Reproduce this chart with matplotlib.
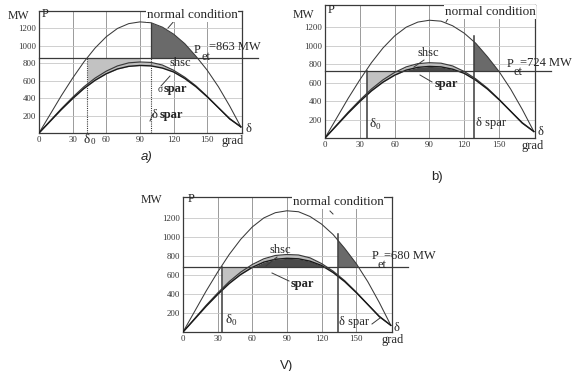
import numpy as np
import matplotlib.pyplot as plt

W, H = 582, 371

# power-angle characteristics (MW vs. degrees)
delta = [0, 10, 20, 30, 40, 50, 60, 70, 80, 90, 100, 110, 120, 130, 140, 150, 160, 170, 180]
p_normal = [0, 215, 430, 630, 815, 975, 1105, 1200, 1255, 1275, 1265, 1215, 1135, 1025, 880, 720, 530, 310, 70]
p_shsc = [0, 140, 280, 410, 530, 630, 710, 770, 805, 815, 810, 780, 720, 640, 540, 420, 290, 160, 70]
p_spar = [0, 135, 270, 395, 510, 605, 680, 735, 765, 775, 770, 745, 700, 625, 530, 415, 290, 165, 70]

panel_names = ["a)", "b)", "V)"]
p_et = [863, 724, 680]
delta_0 = [43, 36, 34]
delta_spar = [100, 128, 134]

x_ticks = [0, 30, 60, 90, 120, 150]
y_ticks = [200, 400, 600, 800, 1000, 1200]

SERIF = "Liberation Serif"
SANS = "Liberation Sans"
LINE = "#3a3a3a"
TXT = "#262626"


def fx(x):
    return x / W


def fy(y):
    return 1 - y / H


def ftext(fig, x, y, s, size=9, **kw):
    kw.setdefault("family", SERIF)
    kw.setdefault("va", "center")
    kw.setdefault("ha", "left")
    fig.text(fx(x), fy(y), s, fontsize=size, color=TXT, **kw)


def leader(fig, pts):
    xs = [fx(p[0]) for p in pts]
    ys = [fy(p[1]) for p in pts]
    fig.add_artist(plt.Line2D(xs, ys, color=LINE, lw=0.7, transform=fig.transFigure))


fig = plt.figure(figsize=(W / 100, H / 100), dpi=100)

# pixel boxes: left, right, bottom, top, ymax
boxes = [(39, 242, 133, 11, 1400), (325, 535, 138, 5, 1440), (183, 392, 332, 197, 1420)]

for i, (l, r, b, t, ymax) in enumerate(boxes):
    ax = fig.add_axes([fx(l), fy(b), (r - l) / W, (b - t) / H])
    ax.set_xlim(0, 181)
    ax.set_ylim(0, ymax)
    for s in ax.spines.values():
        s.set_linewidth(0.9)
        s.set_color(LINE)
    ax.set_xticks(x_ticks)
    ax.set_yticks(y_ticks)
    ax.tick_params(length=0, labelsize=6.3, pad=2, colors="#333333")
    for lab in ax.get_xticklabels() + ax.get_yticklabels():
        lab.set_family(SERIF)
    ax.grid(True, axis="x", color="#9a9a9a", lw=0.7)
    ax.grid(True, axis="y", color="#c8c8c8", lw=0.6)

    pe = p_et[i]
    d0 = delta_0[i]
    ds = delta_spar[i]

    xs = np.linspace(d0, ds, 200)
    ys = np.interp(xs, delta, p_spar)
    ax.fill_between(xs, ys, pe, where=(ys < pe) & (xs < 90), color="#c2c2c2", lw=0, zorder=2)
    ax.fill_between(xs, ys, pe, where=ys >= pe, color="#4a4a4a", lw=0, zorder=2)

    xn = np.linspace(ds, 180, 300)
    yn = np.interp(xn, delta, p_normal)
    ax.fill_between(xn, yn, pe, where=yn >= pe, color="#6a6a6a", lw=0, zorder=2)

    xb = np.linspace(0, 180, 200)
    ax.fill_between(xb, np.interp(xb, delta, p_spar), np.interp(xb, delta, p_shsc),
                    color="#bdbdbd", lw=0, zorder=2)

    ax.plot(delta, p_normal, color=LINE, lw=0.75, zorder=3)
    ax.plot(delta, p_shsc, color=LINE, lw=0.85, zorder=3)
    ax.plot(delta, p_spar, color="#1a1a1a", lw=1.0, zorder=3)

    ax.plot([0, 195], [pe, pe], color=LINE, lw=0.9, clip_on=False, zorder=3)
    top_n = float(np.interp(ds, delta, p_normal))
    if i == 0:
        ax.plot([d0, d0], [0, pe], color=LINE, lw=0.8, ls=(0, (1, 1)), zorder=3)
        ax.plot([ds, ds], [0, pe], color=LINE, lw=0.8, ls=(0, (1, 1)), zorder=3)
        ax.plot([ds, ds], [pe, top_n], color=LINE, lw=0.9, zorder=3)
    else:
        ax.plot([d0, d0], [0, pe], color=LINE, lw=1.1, zorder=3)
        ax.plot([ds, ds], [0, top_n + 60], color=LINE, lw=1.1, zorder=3)

white = dict(facecolor="white", edgecolor="none", pad=0.6)

# panel a texts
ftext(fig, 8, 16, "MW", 8.5)
ftext(fig, 42, 14, "P", 9)
ftext(fig, 192, 15, "normal condition", 9.5, ha="center", bbox=white)
leader(fig, [(175, 20), (168, 28)])
ftext(fig, 194, 50, "P", 9)
ftext(fig, 202, 57, "et", 9)
ftext(fig, 209, 47, "=863 MW", 9)
ftext(fig, 170, 63, "shsc", 9)
ftext(fig, 158, 89, "\u03c3", 7)
ftext(fig, 164, 89, "spar", 9, weight="bold")
leader(fig, [(161, 86), (170, 76)])
ftext(fig, 152, 115, "\u03b4", 9)
ftext(fig, 160, 115, "spar", 9, weight="bold")
leader(fig, [(150, 121), (153, 114)])
ftext(fig, 245, 129, "\u03b4", 9)
ftext(fig, 221, 141, "grad", 9)
ftext(fig, 83, 140, "\u03b4", 9.5)
ftext(fig, 91, 142, "0", 6.5)
ftext(fig, 147, 157, "a)", 9.5, family=SANS, style="italic", ha="center")

# panel b texts
ftext(fig, 293, 15, "MW", 8.5)
ftext(fig, 328, 10, "P", 9)
ftext(fig, 490, 12, "normal condition", 9.5, ha="center", bbox=white)
leader(fig, [(450, 15), (446, 22)])
ftext(fig, 417, 53, "shsc", 9)
leader(fig, [(424, 60), (414, 67)])
ftext(fig, 435, 84, "spar", 9, weight="bold")
leader(fig, [(432, 82), (420, 75)])
ftext(fig, 507, 64, "P", 9)
ftext(fig, 514, 72, "et", 9)
ftext(fig, 520, 63, "=724 MW", 9)
ftext(fig, 369, 124, "\u03b4", 9.5)
ftext(fig, 376, 127, "0", 6.5)
ftext(fig, 476, 123, "\u03b4 spar", 9)
ftext(fig, 538, 132, "\u03b4", 9)
ftext(fig, 521, 146, "grad", 9)
ftext(fig, 437, 177, "b)", 9.5, family=SANS, ha="center")

# panel c texts
ftext(fig, 141, 200, "MW", 8.5)
ftext(fig, 188, 199, "P", 9)
ftext(fig, 338, 202, "normal condition", 9.5, ha="center", bbox=white)
leader(fig, [(330, 211), (333, 214)])
ftext(fig, 270, 250, "shsc", 9)
leader(fig, [(277, 257), (266, 266)])
ftext(fig, 291, 284, "spar", 9, weight="bold")
leader(fig, [(289, 281), (272, 273)])
ftext(fig, 372, 256, "P", 9)
ftext(fig, 378, 265, "et", 9)
ftext(fig, 384, 256, "=680 MW", 9)
ftext(fig, 225, 320, "\u03b4", 9.5)
ftext(fig, 232, 323, "0", 6.5)
ftext(fig, 339, 322, "\u03b4 spar", 9)
leader(fig, [(372, 324), (380, 318)])
ftext(fig, 393, 328, "\u03b4", 9)
ftext(fig, 382, 340, "grad", 9)
ftext(fig, 287, 366, "V)", 9.5, family=SANS, ha="center")

fig.savefig("out.png", dpi=100)
